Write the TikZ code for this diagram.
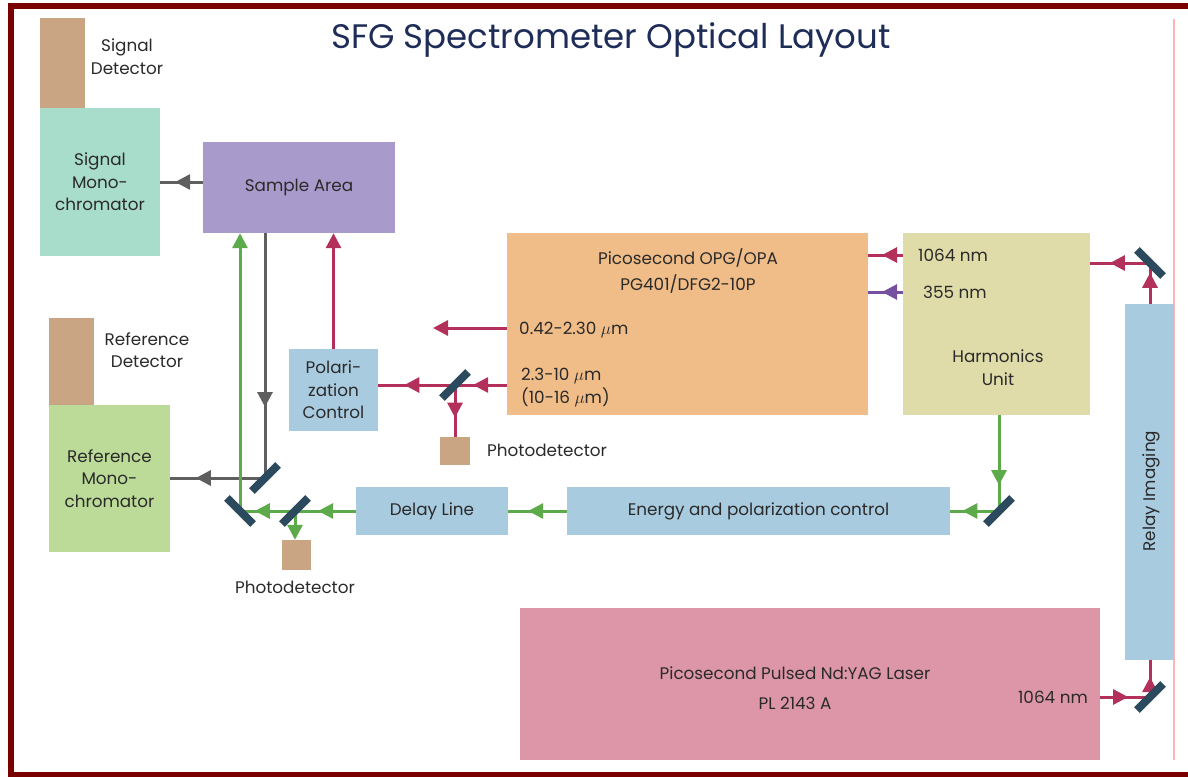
\documentclass[tikz,border=0pt]{standalone}
\usepackage{fontspec}
\setmainfont{Poppins}
\usetikzlibrary{arrows.meta}
\usetikzlibrary{decorations.markings}

\definecolor{framered}{HTML}{7A0000}
\definecolor{edgepink}{HTML}{FFB3B3}
\definecolor{titleblue}{HTML}{1E2C58}
\definecolor{inkgray}{HTML}{2A2A2A}
\definecolor{beamred}{HTML}{B3305A}
\definecolor{beamgreen}{HTML}{5DAA4A}
\definecolor{beamgray}{HTML}{5F5F5F}
\definecolor{beampurple}{HTML}{7650A0}
\definecolor{mirrorblue}{HTML}{2B4A5E}
\definecolor{detectortan}{HTML}{C9A583}
\definecolor{signalteal}{HTML}{A9DDCB}
\definecolor{samplelilac}{HTML}{A99ACC}
\definecolor{refgreen}{HTML}{BCDB98}
\definecolor{optblue}{HTML}{A9CBE0}
\definecolor{opgorange}{HTML}{F0BD88}
\definecolor{harmkhaki}{HTML}{DFDCA9}
\definecolor{laserpink}{HTML}{DD96A8}

\begin{document}
\begin{tikzpicture}[x=1pt, y=-1pt,
        font=\fontsize{16.8}{22.5}\selectfont,
        block/.style={rectangle, inner sep=0pt, align=center, text=inkgray},
        note/.style={inner sep=0pt, align=center, text=inkgray},
        mirror/.style={rectangle, fill=mirrorblue, inner sep=0pt, minimum width=37, minimum height=8},
        beam/.style={line width=3pt},
        midarrow/.style={postaction={decorate, decoration={markings, mark=at position #1 with {\arrow{Triangle[length=15pt, width=15pt]}}}}},
        endarrow/.style={-{Triangle[length=15pt, width=15pt]}}]

        \useasboundingbox (0,0) rectangle (1188,776);

        %%% FRAME AND TITLE
        \draw[framered, line width=6pt] (1200,6.5) -- (11,6.5) -- (11,775) -- (1200,775);
        \draw[edgepink, line width=1.5pt] (1174,19) -- (1174,760);
        \node[text=titleblue, font=\fontsize{34}{40}\selectfont] (title) at (611,40) {SFG Spectrometer Optical Layout};

        %%% DETECTION SIDE (left)

        % Signal arm
        \node[block, fill=detectortan, minimum width=45, minimum height=90] (sigdet) at (62.5,63) {};
        \node[note] (sigdettext) at (127,56.5) {Signal\\Detector};
        \node[block, fill=signalteal, minimum width=120, minimum height=148] (sigmono) at (100,182) {Signal\\Mono-\\chromator};
        \node[block, fill=samplelilac, minimum width=192, minimum height=91] (sample) at (299,187.5) {Sample Area};

        % Reference arm
        \node[block, fill=detectortan, minimum width=45, minimum height=87] (refdet) at (71.5,361.5) {};
        \node[note] (refdettext) at (147,350) {Reference\\Detector};
        \node[block, fill=refgreen, minimum width=121, minimum height=147] (refmono) at (109.5,478.5) {Reference\\Mono-\\chromator};

        % Polarization and photodetectors
        \node[block, fill=optblue, minimum width=89, minimum height=82] (pol) at (333.5,390) {Polari-\\zation\\Control};
        \node[block, fill=detectortan, minimum width=30, minimum height=28] (pdup) at (455,451) {};
        \node[note, anchor=west] (pduptext) at (487,450) {Photodetector};
        \node[block, fill=detectortan, minimum width=29, minimum height=30] (pdlow) at (296.5,555) {};
        \node[note] (pdlowtext) at (295,587) {Photodetector};

        %%% SOURCES (right)

        % OPG/OPA
        \node[block, fill=opgorange, minimum width=361, minimum height=182] (opg) at (687.5,324) {};
        \node[note] (opgname) at (688,271) {Picosecond OPG/OPA\\[3.5pt]PG401/DFG2-10P};
        \node[note, anchor=west] (visout) at (519,330) {0.42-2.30 $\mu$m};
        \node[note, anchor=west, align=left] (irout) at (521,387.5) {2.3-10 $\mu$m\\(10-16 $\mu$m)};

        % Harmonics unit
        \node[block, fill=harmkhaki, minimum width=187, minimum height=182] (harm) at (996.5,324) {};
        \node[note, anchor=west] (hfund) at (918,255) {1064 nm};
        \node[note, anchor=west] (huv) at (923,292) {355 nm};
        \node[note] (harmname) at (998,367.5) {Harmonics\\Unit};

        % Relay, delay and laser
        \node[block, fill=optblue, minimum width=49, minimum height=356] (relay) at (1149.5,482) {};
        \node[note, rotate=90] (relaytext) at (1151,491) {Relay Imaging};
        \node[block, fill=optblue, minimum width=383, minimum height=48] (energy) at (758.5,511) {Energy and polarization control};
        \node[block, fill=optblue, minimum width=152, minimum height=48] (delay) at (432,511) {Delay Line};
        \node[block, fill=laserpink, minimum width=580, minimum height=152] (laser) at (810,684) {};
        \node[note] (lasername) at (795,688) {Picosecond Pulsed Nd:YAG Laser\\[7.5pt]PL 2143 A};
        \node[note, anchor=east] (laserout) at (1088,697) {1064 nm};

        %%% BEAMS

        % Mirror points
        \coordinate (mA) at (265,478);
        \coordinate (mB) at (240,511);
        \coordinate (mC) at (295,511);
        \coordinate (mD) at (455,385);
        \coordinate (mE) at (1150,263);
        \coordinate (mF) at (999,511);
        \coordinate (mG) at (1150,697);
        \coordinate (visend) at (433,328);

        % Signal and reference (gray)
        \draw[beam, beamgray, midarrow=0.65] (sample.west |- sigmono.east) -- (sigmono.east);
        \draw[beam, beamgray, midarrow=0.71] (sample.south -| mA) -- (mA);
        \draw[beam, beamgray, midarrow=0.73] (mA) -- (refmono.east |- mA);

        % Visible (green)
        \draw[beam, beamgreen, midarrow=0.73] (harm.south -| mF) -- (mF);
        \draw[beam, beamgreen, midarrow=0.75] (mF) -- (energy.east);
        \draw[beam, beamgreen, midarrow=0.66] (energy.west) -- (delay.east);
        \draw[beam, beamgreen, midarrow=0.62] (delay.west) -- (mC);
        \draw[beam, beamgreen, midarrow=0.73] (mC) -- (mB);
        \draw[beam, beamgreen, endarrow] (mB) -- (sample.south -| mB);
        \draw[beam, beamgreen, endarrow] (mC) -- (pdlow.north -| mC);

        % Infrared (red)
        \draw[beam, beamred, endarrow] (pol.north) -- (sample.south -| pol.north);
        \draw[beam, beamred, midarrow=0.65] (opg.west |- mD) -- (mD);
        \draw[beam, beamred, midarrow=0.66] (mD) -- (pol.east |- mD);
        \draw[beam, beamred, midarrow=0.63] (mD) -- (pdup.north);
        \draw[beam, beamred, endarrow] (opg.west |- visend) -- (visend);

        % Pump (red, purple)
        \draw[beam, beamred, midarrow=0.56] (laser.east |- mG) -- (mG);
        \draw[beam, beamred, midarrow=0.54] (mG) -- (relay.south -| mG);
        \draw[beam, beamred, midarrow=0.76] (relay.north -| mE) -- (mE);
        \draw[beam, beamred, midarrow=0.67] (mE) -- (harm.east |- mE);
        \draw[beam, beamred, midarrow=0.6] (harm.west |- hfund) -- (opg.east |- hfund);
        \draw[beam, beampurple, midarrow=0.6] (harm.west |- huv) -- (opg.east |- huv);

        % Mirrors
        \node[mirror, rotate=45] (mirA) at (mA) {};
        \node[mirror, rotate=-45] (mirB) at (mB) {};
        \node[mirror, rotate=45] (mirC) at (mC) {};
        \node[mirror, rotate=45] (mirD) at (mD) {};
        \node[mirror, rotate=-45] (mirE) at (mE) {};
        \node[mirror, rotate=45] (mirF) at (mF) {};
        \node[mirror, rotate=45] (mirG) at (mG) {};

\end{tikzpicture}
\end{document}
